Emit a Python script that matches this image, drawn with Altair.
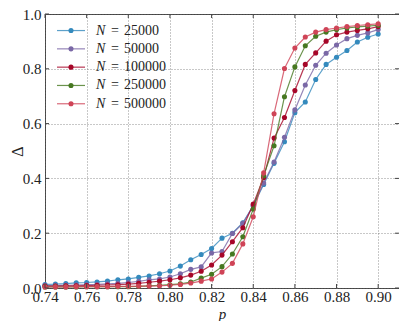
import altair as alt
import pandas as pd

p_values = [0.740, 0.745, 0.750, 0.755, 0.760, 0.765, 0.770, 0.775, 0.780, 0.785,
            0.790, 0.795, 0.800, 0.805, 0.810, 0.815, 0.820, 0.825, 0.830, 0.835,
            0.840, 0.845, 0.850, 0.855, 0.860, 0.865, 0.870, 0.875, 0.880, 0.885,
            0.890, 0.895, 0.900]

delta_25000 = [0.013, 0.014, 0.016, 0.019, 0.020, 0.022, 0.025, 0.030, 0.033, 0.039,
               0.044, 0.052, 0.062, 0.080, 0.103, 0.122, 0.144, 0.182, 0.200, 0.238,
               0.300, 0.378, 0.455, 0.534, 0.640, 0.679, 0.761, 0.816, 0.842, 0.867,
               0.898, 0.915, 0.927]
delta_50000 = [0.009, 0.009, 0.010, 0.011, 0.012, 0.013, 0.015, 0.017, 0.020, 0.024,
               0.030, 0.033, 0.040, 0.052, 0.068, 0.077, 0.128, 0.133, 0.199, 0.236,
               0.300, 0.383, 0.460, 0.550, 0.650, 0.741, 0.813, 0.857, 0.887, 0.910,
               0.922, 0.931, 0.943]
delta_100000 = [0.007, 0.007, 0.008, 0.008, 0.009, 0.010, 0.011, 0.012, 0.014, 0.017,
                0.021, 0.025, 0.030, 0.037, 0.047, 0.061, 0.084, 0.120, 0.169, 0.220,
                0.306, 0.403, 0.547, 0.622, 0.721, 0.816, 0.858, 0.901, 0.924, 0.934,
                0.940, 0.946, 0.954]
delta_250000 = [0.004, 0.004, 0.004, 0.004, 0.005, 0.005, 0.005, 0.005, 0.005, 0.006,
                0.008, 0.010, 0.012, 0.015, 0.022, 0.036, 0.050, 0.078, 0.124, 0.187,
                0.288, 0.410, 0.519, 0.698, 0.807, 0.884, 0.919, 0.934, 0.943, 0.949,
                0.953, 0.956, 0.959]
delta_500000 = [0.004, 0.004, 0.004, 0.005, 0.005, 0.005, 0.005, 0.006, 0.006, 0.007,
                0.007, 0.008, 0.010, 0.013, 0.018, 0.025, 0.033, 0.058, 0.090, 0.161,
                0.260, 0.420, 0.636, 0.801, 0.876, 0.916, 0.934, 0.943, 0.949, 0.954,
                0.958, 0.961, 0.964]

n_labels = ["25000", "50000", "100000", "250000", "500000"]
colors = ["#348ABD", "#7A68A6", "#A60628", "#467821", "#CF4457"]
series = [delta_25000, delta_50000, delta_100000, delta_250000, delta_500000]

x_ticks = [0.74, 0.76, 0.78, 0.80, 0.82, 0.84, 0.86, 0.88, 0.90]
y_ticks = [0.0, 0.2, 0.4, 0.6, 0.8, 1.0]

W, H = 354, 274
FONT = "Liberation Serif"

rows = []
for lab, vals in zip(n_labels, series):
    for p, d in zip(p_values, vals):
        rows.append({"N": lab, "p": p, "delta": d})
df = pd.DataFrame(rows)

x_scale = alt.Scale(domain=[0.74, 0.91], nice=False, zero=False)
y_scale = alt.Scale(domain=[0, 1], nice=False)

x_axis = alt.Axis(values=x_ticks, format=".2f", title="p", titleFont=FONT,
                  titleFontStyle="italic", titleFontWeight="normal", titleFontSize=15,
                  titleBaseline="alphabetic", titleY=30, labelPadding=13,
                  labelBaseline="alphabetic", labelFlush=False)
y_axis = alt.Axis(values=y_ticks, format=".1f", title="Δ", titleFont=FONT,
                  titleFontWeight="normal", titleFontSize=16, titleX=-23,
                  titleBaseline="alphabetic", titleAngle=270,
                  titleY=H / 2, labelPadding=4, labelBaseline="middle")


def X(field):
    return alt.X(field, scale=x_scale, axis=x_axis)


def Y(field):
    return alt.Y(field, scale=y_scale, axis=y_axis)


base = alt.Chart(df)
layers = []
for lab, col in zip(n_labels, colors):
    s = base.transform_filter(alt.datum.N == lab)
    layers.append(
        s.mark_line(color=col, strokeWidth=1.2, opacity=0.8, clip=False).encode(
            x=X("p:Q"), y=Y("delta:Q")
        )
    )
    layers.append(
        s.mark_circle(color=col, size=26, opacity=1, clip=False).encode(
            x=X("p:Q"), y=Y("delta:Q")
        )
    )

# inward ticks
xt = pd.DataFrame({"t": x_ticks})
yt = pd.DataFrame({"t": y_ticks})
tick_col = "#444"
layers.append(alt.Chart(xt).mark_rule(color=tick_col).encode(
    x=X("t:Q"), y=alt.value(H), y2=alt.value(H - 4)))
layers.append(alt.Chart(xt).mark_rule(color=tick_col).encode(
    x=X("t:Q"), y=alt.value(0), y2=alt.value(4)))
layers.append(alt.Chart(yt).mark_rule(color=tick_col).encode(
    y=Y("t:Q"), x=alt.value(0), x2=alt.value(4)))
layers.append(alt.Chart(yt).mark_rule(color=tick_col).encode(
    y=Y("t:Q"), x=alt.value(W), x2=alt.value(W - 4)))

# legend (drawn inside plot, top-left)
leg = pd.DataFrame({"i": list(range(len(n_labels))), "label": n_labels, "col": colors})
lbase = alt.Chart(leg).transform_calculate(ly="0.9396 - datum.i * 0.0668")
ly = Y("ly:Q")
layers.append(lbase.mark_rule(strokeWidth=1.2, opacity=0.8).encode(
    x=alt.value(12), x2=alt.value(40), y=ly, color=alt.Color("col:N", scale=None)))
layers.append(lbase.mark_circle(size=26, opacity=1).encode(
    x=alt.value(26), y=ly, color=alt.Color("col:N", scale=None)))
layers.append(lbase.mark_text(align="left", baseline="middle", font=FONT, fontSize=14,
                              fontStyle="italic", color="#222").encode(
    x=alt.value(51), y=ly, text=alt.value("N")))
layers.append(lbase.mark_text(align="left", baseline="middle", font=FONT, fontSize=14,
                              color="#222").encode(
    x=alt.value(66), y=ly, text=alt.value("=")))
layers.append(lbase.mark_text(align="left", baseline="middle", font=FONT, fontSize=14,
                              color="#222").encode(
    x=alt.value(79), y=ly, text="label:N"))

chart = alt.layer(*layers).properties(
    width=W, height=H,
    autosize=alt.AutoSizeParams(type="none"),
    padding={"left": 37, "top": 6, "right": 0, "bottom": 33},
).configure_view(
    stroke="#444", strokeWidth=1
).configure_axis(
    domain=False, ticks=False, tickSize=0, grid=True,
    gridColor="#666", gridDash=[1, 2], gridWidth=0.8, gridOpacity=0.9,
    labelFont=FONT, labelFontSize=15, labelColor="#222", titleColor="#222"
)

chart.save("out.html", embed_options={"renderer": "svg", "actions": False})
